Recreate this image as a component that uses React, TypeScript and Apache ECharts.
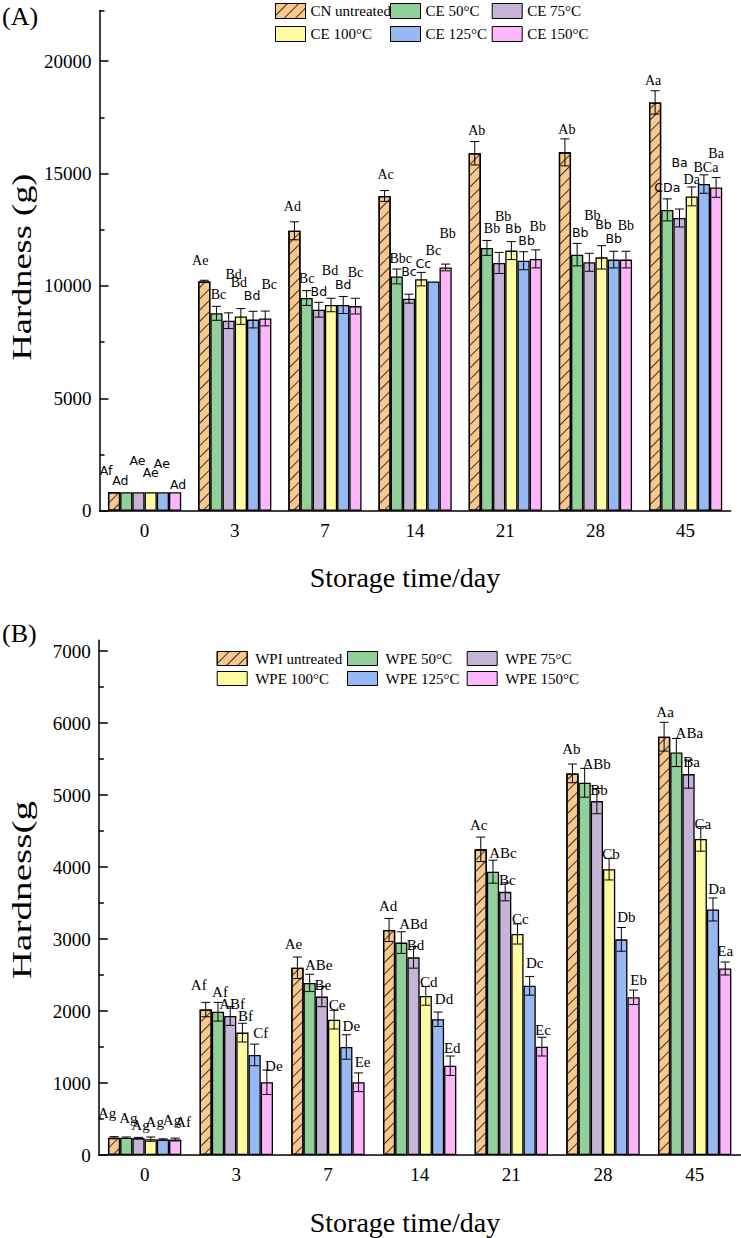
import React, { useEffect, useRef } from 'react';
import * as echarts from 'echarts';

const categories = ['0', '3', '7', '14', '21', '28', '45'];

// Panel A
const namesA = ['CN untreated', 'CE 50°C', 'CE 75°C', 'CE 100°C', 'CE 125°C', 'CE 150°C'];
const cnUntreated = [820, 10200, 12450, 14000, 15900, 15940, 18160];
const ce50 = [820, 8780, 9460, 10420, 11690, 11390, 13380];
const ce75 = [820, 8450, 8940, 9430, 11020, 11050, 13020];
const ce100 = [820, 8640, 9150, 10300, 11570, 11270, 13980];
const ce125 = [820, 8500, 9150, 10200, 11120, 11170, 14530];
const ce150 = [820, 8550, 9100, 10820, 11200, 11170, 14380];
const cnUntreatedErr = [0, 50, 400, 240, 520, 600, 520];
const ce50Err = [0, 310, 330, 330, 330, 500, 490];
const ce75Err = [0, 350, 330, 200, 470, 400, 400];
const ce100Err = [0, 350, 300, 300, 400, 520, 420];
const ce125Err = [0, 370, 380, 0, 400, 370, 410];
const ce150Err = [0, 330, 350, 150, 400, 370, 440];
const cnUntreatedLab = ['Af', 'Ae', 'Ad', 'Ac', 'Ab', 'Ab', 'Aa'];
const ce50Lab = ['Ad', 'Bc', 'Bc', 'Bbc', 'Bb', 'Bb', 'CDa'];
const ce75Lab = ['Ae', 'Bd', 'Bd', 'Bc', 'Bb', 'Bb', 'Ba'];
const ce100Lab = ['Ae', 'Bd', 'Bd', 'Cc', 'Bb', 'Bb', 'Da'];
const ce125Lab = ['Ae', 'Bd', 'Bd', 'Bc', 'Bb', 'Bb', 'BCa'];
const ce150Lab = ['Ad', 'Bc', 'Bc', 'Bb', 'Bb', 'Bb', 'Ba'];
const yTicksA = [0, 5000, 10000, 15000, 20000];
const yMinorA = [2500, 7500, 12500, 17500, 22250];

// Panel B
const namesB = ['WPI untreated', 'WPE 50°C', 'WPE 75°C', 'WPE 100°C', 'WPE 125°C', 'WPE 150°C'];
const wpiUntreated = [240, 2020, 2600, 3125, 4245, 5300, 5810];
const wpe50 = [240, 1990, 2390, 2950, 3935, 5170, 5590];
const wpe75 = [235, 1930, 2200, 2745, 3655, 4915, 5290];
const wpe100 = [220, 1700, 1880, 2210, 3070, 3970, 4390];
const wpe125 = [215, 1390, 1500, 1885, 2350, 2995, 3410];
const wpe150 = [215, 1010, 1010, 1240, 1505, 2190, 2590];
const wpiUntreatedErr = [15, 100, 150, 160, 170, 130, 200];
const wpe50Err = [10, 130, 120, 150, 160, 200, 195];
const wpe75Err = [10, 130, 140, 150, 125, 175, 195];
const wpe100Err = [30, 130, 130, 130, 140, 150, 170];
const wpe125Err = [10, 150, 170, 100, 130, 165, 160];
const wpe150Err = [20, 170, 130, 135, 130, 100, 90];
const wpiUntreatedLab = ['Ag', 'Af', 'Ae', 'Ad', 'Ac', 'Ab', 'Aa'];
const wpe50Lab = ['Ag', 'Af', 'ABe', 'ABd', 'ABc', 'ABb', 'ABa'];
const wpe75Lab = ['Ag', 'ABf', 'Be', 'Bd', 'Bc', 'Bb', 'Ba'];
const wpe100Lab = ['Ag', 'Bf', 'Ce', 'Cd', 'Cc', 'Cb', 'Ca'];
const wpe125Lab = ['Ag', 'Cf', 'De', 'Dd', 'Dc', 'Db', 'Da'];
const wpe150Lab = ['Af', 'De', 'Ee', 'Ed', 'Ec', 'Eb', 'Ea'];
const yTicksB = [0, 1000, 2000, 3000, 4000, 5000, 6000, 7000];
const yMinorB = [500, 1500, 2500, 3500, 4500, 5500, 6500];

// ---- styles (label placement, fonts, colours) ----
const colors = ['#FAC88C', '#92D09B', '#C5B4D8', '#FFFBA3', '#98B8F3', '#FEB6FB'];
const SERIF = 'Liberation Serif, Times New Roman, serif';
const SANS = 'DejaVu Sans, sans-serif';

// [dx, up, sans?]
const labPosA = [
  [[-8, 22, 1], [-4, 20, 0], [-2, 15, 0], [1, 16, 0], [2, 11, 0], [2, 9, 0], [-2, 10, 0]],
  [[-6, 12, 1], [2, 12, 0], [0, 12, 0], [4, 11, 0], [5, 12, 0], [3, 11, 1], [0, 11, 1]],
  [[-1, 32, 1], [5, 38, 0], [0, 11, 1], [0, 23, 1], [4, 36, 0], [3, 38, 0], [0, 47, 1]],
  [[0, 20, 1], [-2, 26, 0], [-1, 28, 0], [2, 9, 1], [2, 13, 1], [2, 21, 1], [0, 7, 0]],
  [[-1, 29, 1], [-1, 16, 1], [0, 12, 1], [0, 31, 0], [3, 11, 1], [0, 13, 1], [2, 7, 0]],
  [[3, 8, 1], [4, 27, 0], [0, 26, 0], [2, 31, 0], [2, 23, 0], [0, 26, 0], [0, 24, 0]],
];
const labPosB = [
  [[-7, 24], [-7, 17], [-4, 13], [-1, 12], [-2, 12], [-1, 15], [1, 10]],
  [[2, 19], [2, 10], [9, 9], [12, 8], [10, 7], [12, 4], [13, 5]],
  [[2, 12], [2, 3], [1, 2], [2, 2], [2, 3], [2, -1], [3, -2]],
  [[4, 15], [3, 7], [3, 5], [3, 5], [3, 5], [2, 4], [2, 3]],
  [[9, 19], [6, 11], [5, 9], [6, 13], [5, 13], [5, 10], [4, 9]],
  [[8, 16], [7, 4], [4, 11], [2, 8], [1, 7], [5, 10], [0, 11]],
];

const hatch = {
  symbol: 'rect',
  symbolSize: 1,
  dashArrayX: [1, 0],
  dashArrayY: [1, 7],
  rotation: -Math.PI / 4,
  color: '#333333',
};

function buildPanel(
  axisIdx: number,
  names: string[],
  values: number[][],
  errs: number[][],
  labels: string[][],
  labPos: number[][][],
  gap: number,
  serifSize: number,
  sansSize: number,
) {
  const series: any[] = [];
  values.forEach((vals, s) => {
    series.push({
      type: 'bar',
      name: names[s],
      xAxisIndex: axisIdx,
      yAxisIndex: axisIdx,
      data: vals,
      barGap: '0%',
      barCategoryGap: gap * 100 + '%',
      itemStyle: {
        color: colors[s],
        borderColor: '#000',
        borderWidth: 1.3,
        decal: s === 0 ? hatch : undefined,
      },
      z: 2,
    });
  });
  values.forEach((vals, s) => {
    series.push({
      type: 'custom',
      name: names[s] + ' err',
      xAxisIndex: axisIdx,
      yAxisIndex: axisIdx,
      silent: true,
      z: 5,
      data: vals.map((v, i) => [i, v, errs[s][i]]),
      renderItem: (params: any, api: any) => {
        const ci = api.value(0);
        const v = api.value(1);
        const e = api.value(2);
        const base = api.coord([ci, v]);
        const catW = api.size([1, 0])[0];
        const bw = (catW * (1 - gap)) / 6;
        const x = base[0] + (s - 2.5) * bw;
        const yHi = api.coord([ci, v + e])[1];
        const yLo = api.coord([ci, v - e])[1];
        const cap = 4.5;
        const ls = { stroke: '#000', lineWidth: 1 };
        const children: any[] = [];
        if (e > 0) {
          children.push({ type: 'line', shape: { x1: x, y1: yHi, x2: x, y2: yLo }, style: ls });
          children.push({ type: 'line', shape: { x1: x - cap, y1: yHi, x2: x + cap, y2: yHi }, style: ls });
          children.push({ type: 'line', shape: { x1: x - cap, y1: yLo, x2: x + cap, y2: yLo }, style: ls });
        }
        const p = labPos[s][params.dataIndex];
        children.push({
          type: 'text',
          x: x + p[0],
          y: yHi - p[1],
          style: {
            text: labels[s][params.dataIndex],
            fontFamily: p[2] ? SANS : SERIF,
            fontSize: p[2] ? sansSize : serifSize,
            fill: '#000',
            align: 'center',
            verticalAlign: 'middle',
          },
        });
        return { type: 'group', children };
      },
    });
  });
  return series;
}

function makeLegends(names: string[], lefts: number[], top: number, itemH: number, gapV: number, padL: number) {
  const cols = [[names[0], names[3]], [names[1], names[4]], [names[2], names[5]]];
  return cols.map((d, i) => ({
    orient: 'vertical',
    left: lefts[i],
    top,
    data: d,
    icon: 'rect',
    itemWidth: 30,
    itemHeight: itemH,
    itemGap: gapV,
    padding: 0,
    selectedMode: false,
    itemStyle: { borderColor: '#000', borderWidth: 1 },
    textStyle: { fontFamily: SERIF, fontSize: 15, lineHeight: itemH, color: '#000', padding: [0, 0, 0, padL] },
  }));
}

function xAxes(gridIndex: number) {
  return [
    {
      type: 'category',
      gridIndex,
      position: 'bottom',
      data: categories,
      axisLine: { lineStyle: { color: '#000', width: 1.5 } },
      axisTick: { alignWithLabel: true, length: 9, lineStyle: { color: '#000', width: 1.5 } },
      axisLabel: { color: '#000', fontFamily: SERIF, fontSize: 19, margin: 10 },
      splitLine: { show: false },
    },
    {
      type: 'category',
      gridIndex,
      position: 'bottom',
      data: categories,
      axisLine: { show: false },
      axisTick: { alignWithLabel: false, length: 5, lineStyle: { color: '#000', width: 1.5 } },
      axisLabel: { show: false },
      splitLine: { show: false },
    },
  ];
}

function yAxes(gridIndex: number, max: number, interval: number, ticks: number[], minor: number[]) {
  return [
    {
      type: 'value',
      gridIndex,
      position: 'left',
      min: 0,
      max,
      interval,
      axisLine: { show: true, lineStyle: { color: '#000', width: 1.5 } },
      axisTick: { show: true, inside: true, length: 9, customValues: ticks, lineStyle: { color: '#000', width: 1.5 } },
      axisLabel: {
        color: '#000',
        fontFamily: SERIF,
        fontSize: 19,
        margin: 8,
        customValues: ticks,
        formatter: (v: number) => String(v),
      },
      splitLine: { show: false },
    },
    {
      type: 'value',
      gridIndex,
      position: 'left',
      offset: 0,
      min: 0,
      max,
      interval,
      axisLine: { show: false },
      axisTick: { show: true, inside: true, length: 5, customValues: minor, lineStyle: { color: '#000', width: 1.5 } },
      axisLabel: { show: false },
      splitLine: { show: false },
    },
  ];
}

export default function App() {
  const ref = useRef<HTMLDivElement>(null);
  useEffect(() => {
    if (!ref.current) return;
    const chart = echarts.init(ref.current, null, { renderer: 'svg' });
    const seriesA = buildPanel(
      0,
      namesA,
      [cnUntreated, ce50, ce75, ce100, ce125, ce150],
      [cnUntreatedErr, ce50Err, ce75Err, ce100Err, ce125Err, ce150Err],
      [cnUntreatedLab, ce50Lab, ce75Lab, ce100Lab, ce125Lab, ce150Lab],
      labPosA,
      0.188,
      14,
      12.5,
    );
    const seriesB = buildPanel(
      2,
      namesB,
      [wpiUntreated, wpe50, wpe75, wpe100, wpe125, wpe150],
      [wpiUntreatedErr, wpe50Err, wpe75Err, wpe100Err, wpe125Err, wpe150Err],
      [wpiUntreatedLab, wpe50Lab, wpe75Lab, wpe100Lab, wpe125Lab, wpe150Lab],
      labPosB,
      0.2,
      15,
      14,
    );
    chart.setOption({
      animation: false,
      backgroundColor: '#fff',
      grid: [
        { left: 99.5, right: 10.3, top: 10.5, bottom: 727.3 },
        { left: 98.8, right: 0.5, top: 640.2, bottom: 83 },
      ],
      legend: [
        ...makeLegends(namesA, [275, 390, 491.7], 3, 15, 7, 0),
        ...makeLegends(namesB, [216.7, 347, 466.7], 651, 14, 5, 3),
      ],
      xAxis: [...xAxes(0), ...xAxes(1)],
      yAxis: [...yAxes(0, 22250, 5000, yTicksA, yMinorA), ...yAxes(1, 7150, 1000, yTicksB, yMinorB)],
      graphic: [
        { type: 'text', left: 2, top: 3, style: { text: '(A)', fontFamily: SERIF, fontSize: 26, fill: '#000' } },
        { type: 'text', left: 2, top: 620, style: { text: '(B)', fontFamily: SERIF, fontSize: 26, fill: '#000' } },
        {
          type: 'text', x: 22, y: 267, rotation: Math.PI / 2, scaleX: 1.3,
          style: { text: 'Hardness (g)', fontFamily: SERIF, fontSize: 28, fill: '#000', align: 'center', verticalAlign: 'middle' },
        },
        {
          type: 'text', x: 22, y: 890, rotation: Math.PI / 2, scaleX: 1.4,
          style: { text: 'Hardness(g', fontFamily: SERIF, fontSize: 28, fill: '#000', align: 'center', verticalAlign: 'middle' },
        },
        {
          type: 'text', x: 405, y: 577,
          style: { text: 'Storage time/day', fontFamily: SERIF, fontSize: 28, fill: '#000', align: 'center', verticalAlign: 'middle' },
        },
        {
          type: 'text', x: 405, y: 1222,
          style: { text: 'Storage time/day', fontFamily: SERIF, fontSize: 28, fill: '#000', align: 'center', verticalAlign: 'middle' },
        },
      ],
      series: [...seriesA, ...seriesB],
    });
    return () => chart.dispose();
  }, []);
  return <div ref={ref} style={{ position: 'absolute', left: 0, top: 0, width: 741, height: 1238 }} />;
}
